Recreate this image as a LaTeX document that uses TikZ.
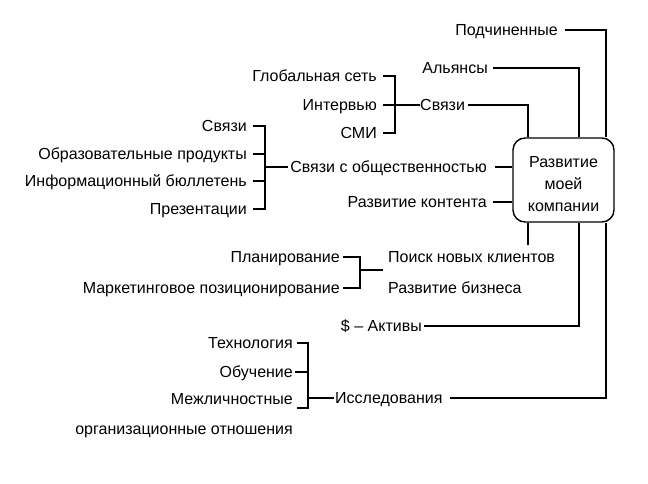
\documentclass[tikz,border=0pt]{standalone}
\usepackage{fontspec}
\setmainfont{Liberation Sans}
\begin{document}
\begin{tikzpicture}[x=1pt,y=-1pt,
  lbl/.style={inner sep=0pt,text height=11.46pt,text depth=0pt,font=\fontsize{16}{22}\selectfont},
  ln/.style={line width=1.2pt},
  thk/.style={line width=2pt}]
\useasboundingbox (0,0) rectangle (648,484);
% central box
\node[draw,line width=1.4pt,rounded corners=12pt,minimum width=101pt,minimum height=84pt,inner sep=0pt] (box) at (563.5,180) {};
\node[inner sep=0pt,align=center,font=\fontsize{16}{22}\selectfont] (boxt) at (563.5,184) {Развитие\\моей\\компании};
% vertical positions
\coordinate (v1) at (528,0);
\coordinate (v2) at (579,0);
\coordinate (v3) at (606,0);
% upper labels
\node[lbl,anchor=east] (podch) at (558,30) {Подчиненные};
\node[lbl,anchor=east] (aly) at (488,68) {Альянсы};
\node[lbl,anchor=east] (glob) at (377,76) {Глобальная сеть};
\node[lbl,anchor=east] (interv) at (377,105) {Интервью};
\node[lbl,anchor=east] (smi) at (377,133) {СМИ};
\node[lbl,anchor=west] (sv1) at (420,105) {Связи};
\node[lbl,anchor=east] (pr) at (487,167) {Связи с общественностью};
\node[lbl,anchor=east] (cont) at (487,202) {Развитие контента};
% left group
\node[lbl,anchor=east] (l1) at (247,126) {Связи};
\node[lbl,anchor=east] (l2) at (247,154) {Образовательные продукты};
\node[lbl,anchor=east] (l3) at (247,181) {Информационный бюллетень};
\node[lbl,anchor=east] (l4) at (247,209) {Презентации};
% lower labels
\node[lbl,anchor=east] (plan) at (340,257) {Планирование};
\node[lbl,anchor=east] (mark) at (340,288) {Маркетинговое позиционирование};
\node[lbl,anchor=west] (poisk) at (388,257) {Поиск новых клиентов};
\node[lbl,anchor=west] (bizn) at (388,288) {Развитие бизнеса};
\node[lbl,anchor=east] (akt) at (422,326) {\$ -- Активы};
\node[lbl,anchor=east] (tech) at (293,343) {Технология};
\node[lbl,anchor=east] (obuch) at (293,372) {Обучение};
\node[lbl,anchor=east] (mezh) at (293,399) {Межличностные};
\node[lbl,anchor=east] (org) at (293,428.5) {организационные отношения};
\node[lbl,anchor=west] (issl) at (335,398) {Исследования};
% bracket coordinates
\coordinate (b1) at (395,133);
\coordinate (lb) at (265,209);
\coordinate (pb) at (360,288);
\coordinate (pm) at (383,270);
\coordinate (pe) at (528,245);
\coordinate (tb) at (308,408);
% upper connectors
\draw[thk] ([xshift=7pt]podch.east) -| (box.north -| v3);
\draw[ln] ([xshift=5pt]aly.east) -| (box.north -| v2);
\draw[ln] ([xshift=6pt]glob.east) -| (b1) -- ([xshift=6pt]smi.east);
\draw[ln] ([xshift=6pt]interv.east) -- (sv1.west);
\draw[ln] ([xshift=3pt]sv1.east) -| (box.north -| v1);
\draw[thk] ([xshift=8pt]pr.east) -- (box.west |- pr.east);
\draw[ln] ([xshift=6pt]cont.east) -- (box.west |- cont.east);
% left bracket
\draw[ln] ([xshift=6pt]l1.east) -| (lb) -- ([xshift=6pt]l4.east);
\draw[ln] ([xshift=6pt]l2.east) -- (l2.east -| lb);
\draw[ln] ([xshift=6pt]l3.east) -- (l3.east -| lb);
\draw[ln] (pr.west -| lb) -- ([xshift=-2pt]pr.west);
% lower connectors
\draw[ln] ([xshift=3pt]plan.east) -| (pb) -- ([xshift=3pt]mark.east);
\draw[ln] (pb |- pm) -- (pm);
\draw[ln] (box.south -| v1) -- (pe);
\draw[ln] ([xshift=2pt]akt.east) -| (box.south -| v2);
\draw[ln] ([xshift=4pt]tech.east) -| (tb) -- ([xshift=4pt]mezh.east |- tb);
\draw[ln] ([xshift=2pt]obuch.east) -- (obuch.east -| tb);
\draw[ln] (issl.west -| tb) -- ([xshift=-1pt]issl.west);
\draw[ln] ([xshift=7pt]issl.east) -| (box.south -| v3);
\end{tikzpicture}
\end{document}
